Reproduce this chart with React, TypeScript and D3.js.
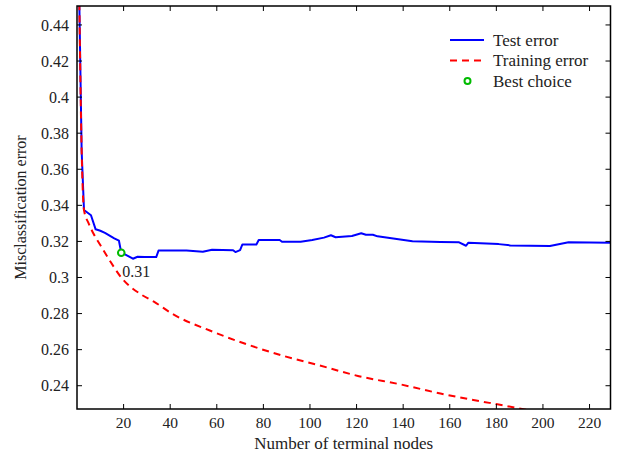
import React, { useEffect, useRef } from 'react';
import * as d3 from 'd3';

// Test error (misclassification) vs number of terminal nodes
const testNodes = [1, 2, 3, 6, 8, 10, 12, 16, 18, 19, 21, 24, 26, 29, 34, 35, 47, 54, 58, 67, 68, 70, 71, 77, 78, 87, 88, 96, 101, 106, 109, 111, 118, 122, 124, 127, 129, 144, 156, 164, 167, 168, 181, 186, 203, 211, 229];
const testError = [0.452, 0.37, 0.3374, 0.3345, 0.3267, 0.3259, 0.3247, 0.3217, 0.3204, 0.3137, 0.3125, 0.3104, 0.3115, 0.3113, 0.3113, 0.3149, 0.3149, 0.3143, 0.3154, 0.3151, 0.3141, 0.3152, 0.3183, 0.3183, 0.3208, 0.3208, 0.3198, 0.3198, 0.3208, 0.3221, 0.3234, 0.3223, 0.323, 0.3245, 0.3237, 0.3237, 0.3228, 0.3201, 0.3197, 0.3195, 0.3176, 0.3193, 0.3185, 0.3178, 0.3174, 0.3195, 0.3193];

// Training error
const trainNodes = [1, 2, 3, 5, 7, 10, 14, 19, 28, 33, 41, 57, 73, 89, 104, 121, 139, 156, 173, 181, 193, 210, 229];
const trainError = [0.452, 0.37, 0.3374, 0.33, 0.3245, 0.318, 0.3095, 0.3, 0.2902, 0.2866, 0.2798, 0.2706, 0.2629, 0.2564, 0.2513, 0.2453, 0.2407, 0.2357, 0.2314, 0.2296, 0.2266, 0.2225, 0.2183];

const bestNode = 19;
const bestError = 0.3137;
const bestLabel = '0.31';

const xTicks = [20, 40, 60, 80, 100, 120, 140, 160, 180, 200, 220];
const yTicks = [0.24, 0.26, 0.28, 0.3, 0.32, 0.34, 0.36, 0.38, 0.4, 0.42, 0.44];

const legendLabels = ['Test error', 'Training error', 'Best choice'];

const FONT = '"Liberation Serif", "DejaVu Serif", serif';

const App = () => {
  const svgRef = useRef(null);

  useEffect(() => {
    const svg = d3.select(svgRef.current);
    svg.selectAll('*').remove();

    const width = 621;
    const height = 458;
    const margin = { top: 6, right: 10.5, bottom: 49, left: 77 };
    const x0 = margin.left, x1 = width - margin.right;
    const y0 = margin.top, y1 = height - margin.bottom;

    const x = d3.scaleLinear().domain([0, 229]).range([x0, x1]);
    const y = d3.scaleLinear().domain([0.2271, 0.4505]).range([y1, y0]);

    svg.append('defs').append('clipPath').attr('id', 'plot-clip')
      .append('rect').attr('x', x0).attr('y', y0).attr('width', x1 - x0).attr('height', y1 - y0);

    const line = d3.line().x(d => x(d[0])).y(d => y(d[1]));
    const smooth = d3.line().x(d => x(d[0])).y(d => y(d[1])).curve(d3.curveMonotoneX);

    const plot = svg.append('g').attr('clip-path', 'url(#plot-clip)');

    // Test error
    plot.append('path')
      .datum(testNodes.map((n, i) => [n, testError[i]]))
      .attr('fill', 'none')
      .attr('stroke', '#0000ff')
      .attr('stroke-width', 2)
      .attr('stroke-linejoin', 'round')
      .attr('d', line);

    // Training error
    plot.append('path')
      .datum(trainNodes.map((n, i) => [n, trainError[i]]))
      .attr('fill', 'none')
      .attr('stroke', '#ff0000')
      .attr('stroke-width', 2)
      .attr('stroke-dasharray', '7,5')
      .attr('d', smooth);

    // Best choice
    svg.append('circle')
      .attr('cx', x(bestNode))
      .attr('cy', y(bestError))
      .attr('r', 3.3)
      .attr('fill', 'white')
      .attr('stroke', '#00bb00')
      .attr('stroke-width', 2);

    svg.append('text')
      .attr('x', x(bestNode) + 1)
      .attr('y', y(bestError) + 24)
      .attr('font-family', FONT)
      .attr('font-size', 16)
      .attr('fill', '#222')
      .text(bestLabel);

    // Frame
    svg.append('rect')
      .attr('x', x0).attr('y', y0)
      .attr('width', x1 - x0).attr('height', y1 - y0)
      .attr('fill', 'none')
      .attr('stroke', '#000')
      .attr('stroke-width', 1.5);

    const tickLen = 5;
    const ticks = svg.append('g').attr('stroke', '#000').attr('stroke-width', 1);
    xTicks.forEach(t => {
      ticks.append('line').attr('x1', x(t)).attr('x2', x(t)).attr('y1', y1).attr('y2', y1 - tickLen);
      ticks.append('line').attr('x1', x(t)).attr('x2', x(t)).attr('y1', y0).attr('y2', y0 + tickLen);
    });
    yTicks.forEach(t => {
      ticks.append('line').attr('x1', x0).attr('x2', x0 + tickLen).attr('y1', y(t)).attr('y2', y(t));
      ticks.append('line').attr('x1', x1).attr('x2', x1 - tickLen).attr('y1', y(t)).attr('y2', y(t));
    });

    svg.append('g').selectAll('text')
      .data(xTicks).join('text')
      .attr('x', d => x(d))
      .attr('y', y1 + 19)
      .attr('text-anchor', 'middle')
      .attr('font-family', FONT)
      .attr('font-size', 15.5)
      .attr('fill', '#222')
      .text(d => d);

    svg.append('g').selectAll('text')
      .data(yTicks).join('text')
      .attr('x', x0 - 8)
      .attr('y', d => y(d))
      .attr('dy', '0.35em')
      .attr('text-anchor', 'end')
      .attr('font-family', FONT)
      .attr('font-size', 16)
      .attr('fill', '#222')
      .text(d => String(+d.toFixed(2)));

    // Axis titles
    svg.append('text')
      .attr('x', (x0 + x1) / 2)
      .attr('y', 449)
      .attr('text-anchor', 'middle')
      .attr('font-family', FONT)
      .attr('font-size', 17)
      .attr('fill', '#222')
      .text('Number of terminal nodes');

    svg.append('text')
      .attr('transform', `translate(26,${(y0 + y1) / 2}) rotate(-90)`)
      .attr('text-anchor', 'middle')
      .attr('font-family', FONT)
      .attr('font-size', 16)
      .attr('fill', '#222')
      .text('Misclassification error');

    // Legend
    const lg = svg.append('g');
    const rowY = [40, 60.5, 81];
    lg.append('line').attr('x1', 450).attr('x2', 484).attr('y1', rowY[0]).attr('y2', rowY[0])
      .attr('stroke', '#0000ff').attr('stroke-width', 2);
    lg.append('line').attr('x1', 450).attr('x2', 484).attr('y1', rowY[1]).attr('y2', rowY[1])
      .attr('stroke', '#ff0000').attr('stroke-width', 2).attr('stroke-dasharray', '7,5');
    lg.append('circle').attr('cx', 467.5).attr('cy', rowY[2]).attr('r', 3)
      .attr('fill', 'white').attr('stroke', '#00bb00').attr('stroke-width', 2);
    legendLabels.forEach((l, i) => {
      lg.append('text')
        .attr('x', 493)
        .attr('y', rowY[i])
        .attr('dy', '0.33em')
        .attr('font-family', FONT)
        .attr('font-size', 17)
        .attr('fill', '#222')
        .text(l);
    });
  }, []);

  return (
    <svg ref={svgRef} width={621} height={458} viewBox="0 0 621 458"
      style={{ position: 'absolute', left: 0, top: 0, background: 'white' }} />
  );
};

export default App;
